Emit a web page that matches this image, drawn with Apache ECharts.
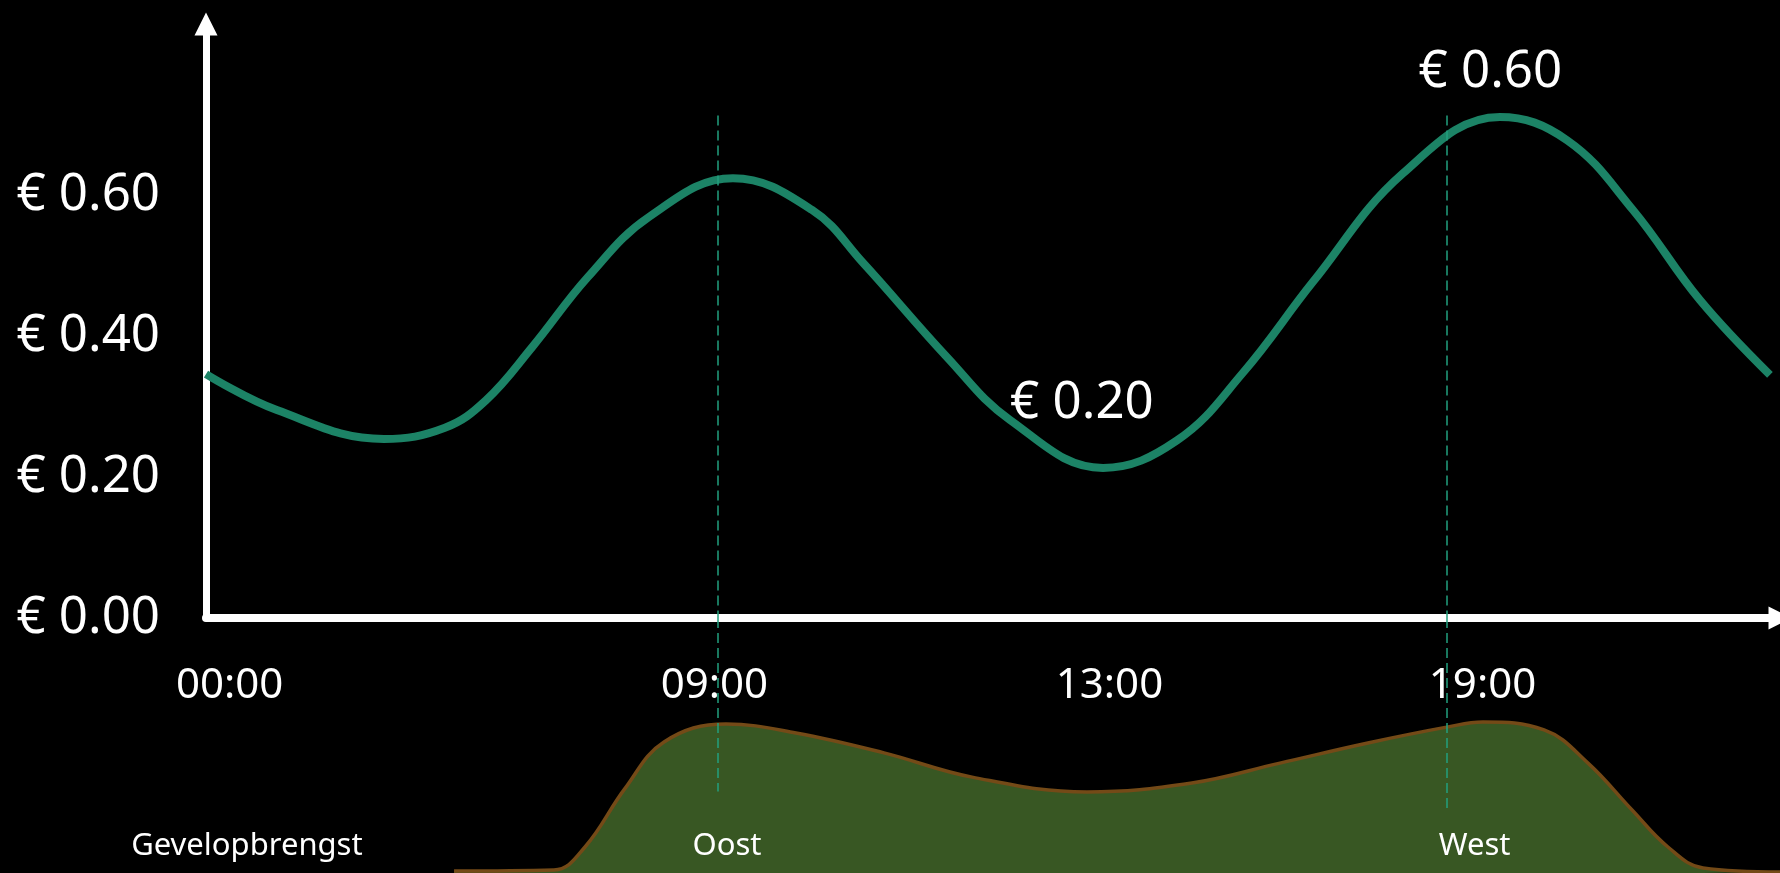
<!DOCTYPE html>
<html>
<head>
<meta charset="utf-8">
<title>Stroomprijs en gevelopbrengst</title>
<script src="https://cdn.jsdelivr.net/npm/echarts@6.0.0/dist/echarts.min.js"></script>
<style>
  html, body { margin: 0; padding: 0; background: #000; }
  #chart { width: 1780px; height: 873px; }
</style>
</head>
<body>
<div id="chart"></div>
<script>
// x = positie langs de tijdas (0-100), de as is schematisch en niet lineair in uren
const priceX = [0, 4.5, 11.31, 15.18, 17.79, 20.71, 24.27, 28.14, 33.48, 38.50, 41.74, 47.08, 51.08, 56.99,
  61.69, 65.88, 70.33, 76.05, 82.21, 86.47, 90.66, 94.92, 99.36]
const priceY = [0.346, 0.295, 0.254, 0.270, 0.309, 0.384, 0.484, 0.569, 0.624, 0.579, 0.504, 0.370, 0.281, 0.213,
  0.252, 0.348, 0.477, 0.631, 0.711, 0.678, 0.579, 0.451, 0.345]

// gevelopbrengst (relatief, 0-1)
const yieldX = [15.76, 22.11, 24.08, 26.6, 29.10, 33.04, 37.48, 43.07, 48.67, 55.97, 62.64, 68.23,
  73.82, 78.91, 81.13, 85.01, 87.80, 90.60, 92.88, 95.11, 100]
const yieldY = [0.008, 0.012, 0.102, 0.33, 0.514, 0.584, 0.549, 0.471, 0.376, 0.318, 0.353, 0.431,
  0.510, 0.573, 0.592, 0.561, 0.431, 0.247, 0.102, 0.020, 0.004]

const timeTicks = [1.5, 32.3, 57.4, 81.1]
const timeLabels = ['00:00', '09:00', '13:00', '19:00']
const priceTicks = [0, 0.2, 0.4, 0.6]

const facadeTicks = [2.6, 33.1, 80.6]
const facadeLabels = ['Gevelopbrengst', 'Oost', 'West']

// piekmomenten (oost / west)
const peakX = [32.5, 78.8]
const peakTopPrice = [0.713, 0.713]
const peakBottomYield = [0.32, 0.235]

// prijs-annotaties
const noteX = [55.65, 81.6]
const noteY = [0.305, 0.774]
const noteText = ['€ 0.20', '€ 0.60']

const font = '"Noto Sans", "Open Sans", sans-serif'
const dashColor = '#22a07f'

const zip = (xs, ys) => xs.map((x, i) => [x, ys[i]])

const chart = echarts.init(document.getElementById('chart'))
chart.setOption({
  backgroundColor: '#000',
  animation: false,
  grid: [
    { left: 206, right: 0, top: 26, bottom: 255 },
    { left: 206, right: 0, top: 618, bottom: 0 }
  ],
  xAxis: [{
    type: 'value',
    gridIndex: 0,
    min: 0,
    max: 100,
    axisLine: {
      show: true,
      symbol: ['none', 'triangle'],
      symbolSize: [23, 23],
      lineStyle: { color: '#fff', width: 8 }
    },
    axisTick: { show: false },
    splitLine: { show: false },
    axisLabel: {
      customValues: timeTicks,
      formatter: v => timeLabels[timeTicks.indexOf(v)],
      color: '#fff',
      fontFamily: font,
      fontSize: 42,
      margin: 47
    }
  }, {
    type: 'value',
    gridIndex: 1,
    min: 0,
    max: 100,
    z: 10,
    axisLine: { show: false },
    axisTick: { show: false },
    splitLine: { show: false },
    axisLabel: {
      inside: true,
      customValues: facadeTicks,
      formatter: v => facadeLabels[facadeTicks.indexOf(v)],
      color: '#fff',
      fontFamily: font,
      fontSize: 31,
      margin: 11
    }
  }],
  yAxis: [{
    type: 'value',
    gridIndex: 0,
    min: 0,
    max: 0.84,
    axisLine: {
      show: true,
      symbol: ['none', 'triangle'],
      symbolSize: [23, 23],
      symbolOffset: [0, 2],
      lineStyle: { color: '#fff', width: 7 }
    },
    axisTick: { show: false },
    splitLine: { show: false },
    axisLabel: {
      customValues: priceTicks,
      formatter: v => '€ ' + v.toFixed(2),
      color: '#fff',
      fontFamily: font,
      fontSize: 51,
      margin: 46
    }
  }, {
    type: 'value',
    gridIndex: 1,
    min: 0,
    max: 1,
    show: false
  }],
  series: [{
    name: 'Prijs',
    type: 'line',
    xAxisIndex: 0,
    yAxisIndex: 0,
    data: zip(priceX, priceY),
    smooth: 0.4,
    showSymbol: false,
    lineStyle: { color: '#1c8366', width: 8 },
    z: 3,
    markLine: {
      silent: true,
      symbol: ['none', 'none'],
      label: { show: false },
      lineStyle: { color: dashColor, width: 1.5, type: [10, 5] },
      data: peakX.map((x, i) => [{ coord: [x, peakTopPrice[i]] }, { coord: [x, 0] }])
    }
  }, {
    name: 'Notities',
    type: 'scatter',
    xAxisIndex: 0,
    yAxisIndex: 0,
    data: zip(noteX, noteY),
    symbolSize: 0,
    itemStyle: { color: 'transparent', opacity: 1 },
    z: 4,
    label: {
      show: true,
      position: 'inside',
      formatter: p => noteText[p.dataIndex],
      color: '#fff',
      opacity: 1,
      textBorderWidth: 0,
      fontFamily: font,
      fontSize: 51
    }
  }, {
    name: 'Gevelopbrengst',
    type: 'line',
    xAxisIndex: 1,
    yAxisIndex: 1,
    data: zip(yieldX, yieldY),
    smooth: 0.4,
    showSymbol: false,
    lineStyle: { color: '#744a17', width: 3.5 },
    areaStyle: { color: '#385723', opacity: 1 },
    markLine: {
      silent: true,
      symbol: ['none', 'none'],
      label: { show: false },
      lineStyle: { color: dashColor, width: 1.5, type: [10, 5] },
      data: peakX.map((x, i) => [{ coord: [x, 1] }, { coord: [x, peakBottomYield[i]] }])
    }
  }]
})
</script>
</body>
</html>
